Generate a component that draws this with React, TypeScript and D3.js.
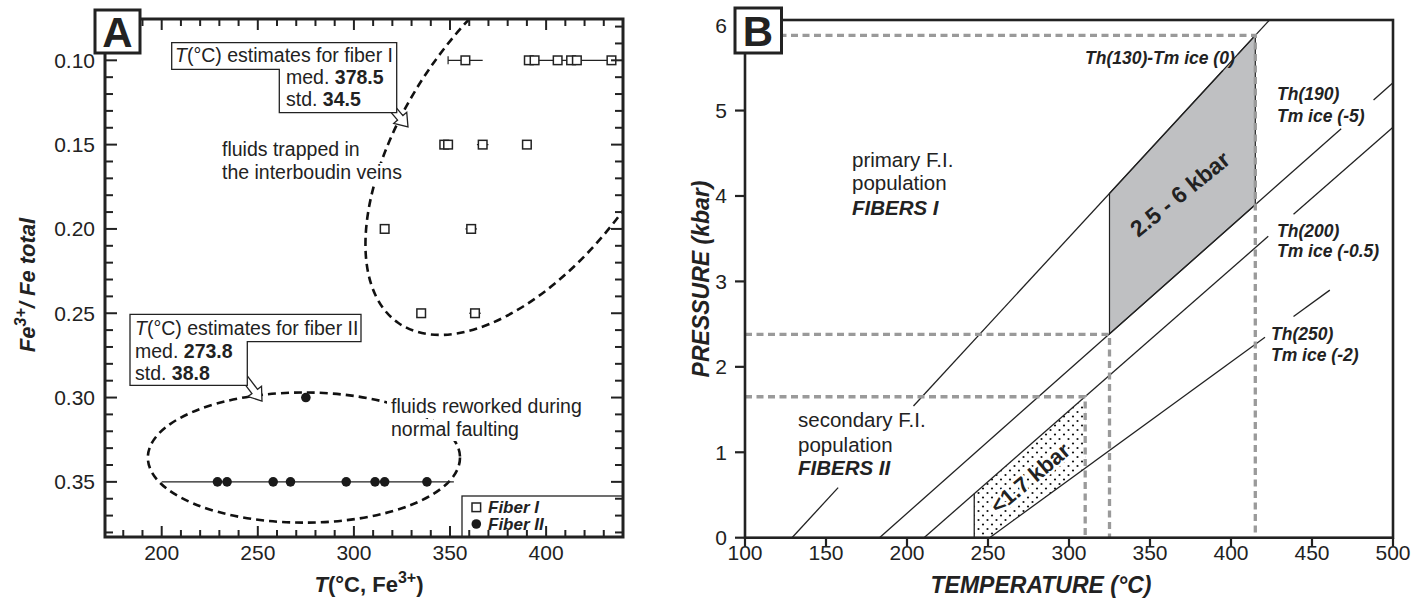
import React from 'react';
import * as d3 from 'd3';

const FONT = "'Liberation Sans', Arial, Helvetica, sans-serif";

// ---------- panel A data ----------
const fiberIT = [358, 391, 394, 406, 413, 416, 434, 347, 349, 367, 390, 316, 361, 335, 363];
const fiberIRatio = [0.1, 0.1, 0.1, 0.1, 0.1, 0.1, 0.1, 0.15, 0.15, 0.15, 0.15, 0.2, 0.2, 0.25, 0.25];
const fiberIIT = [275, 229, 234, 258, 267, 296, 311, 316, 338];
const fiberIIRatio = [0.3, 0.35, 0.35, 0.35, 0.35, 0.35, 0.35, 0.35, 0.35];
// horizontal range bars
const barFrom = [349, 391, 364, 358, 360, 200];
const barTo = [367, 434, 370, 364, 366, 352];
const barRatio = [0.1, 0.1, 0.15, 0.2, 0.25, 0.35];
const xTicksA = [200, 250, 300, 350, 400];
const yTicksA = [0.1, 0.15, 0.2, 0.25, 0.3, 0.35];

// ---------- panel B data ----------
const isoT0 = [129, 183, 210.5, 251];
const isoSlope = [0.02056, 0.0168, 0.0166, 0.0138];
const isoSegments = [
  [[129, 157.5], [204, 395], [404.3, 423.7]],
  [[183, 468], [488, 500]],
  [[210.5, 423], [438.6, 500]],
  [[251, 421], [438.6, 461]],
];
const refP = [5.88, 2.38, 1.65];
const refT = [415, 325, 310];
const primaryRange = [325, 415];
const secondaryRange = [241.5, 310];
const xTicksB = [100, 150, 200, 250, 300, 350, 400, 450, 500];
const yTicksB = [0, 1, 2, 3, 4, 5, 6];

const xA = d3.scaleLinear().domain([170.5, 440]).range([105, 623]);
const yA = d3.scaleLinear().domain([0.0755, 0.3827]).range([19, 537]);
const xB = d3.scaleLinear().domain([100, 500]).range([745, 1393]);
const yB = d3.scaleLinear().domain([0, 6.06]).range([537.7, 20]);

const iso = (i: number, t: number) => Math.max(0, (t - isoT0[i]) * isoSlope[i]);

function blockArrow(x0: number, y0: number, x1: number, y1: number, sw = 3.5, hw = 8.5, hl = 12) {
  const len = Math.hypot(x1 - x0, y1 - y0);
  const ux = (x1 - x0) / len, uy = (y1 - y0) / len;
  const nx = -uy, ny = ux;
  const bx = x1 - ux * hl, by = y1 - uy * hl;
  const p = [
    [x0 + nx * sw, y0 + ny * sw], [bx + nx * sw, by + ny * sw], [bx + nx * hw, by + ny * hw],
    [x1, y1], [bx - nx * hw, by - ny * hw], [bx - nx * sw, by - ny * sw], [x0 - nx * sw, y0 - ny * sw],
  ];
  return p.map(d => d.join(',')).join(' ');
}

function PanelA() {
  const [x0, x1] = xA.range();
  const [y0, y1] = yA.range();
  const minorX = d3.range(18, 45).map(d => d * 10);
  const minorY = d3.range(8, 39).map(d => d / 100);
  const cx2 = xA(274), cy2 = yA(0.3356);
  const rx2 = xA(274 + 81.2) - cx2, ry2 = yA(0.3356 + 0.0386) - cy2;
  return (
    <g fontFamily={FONT}>
      <defs>
        <clipPath id="clipA"><rect x={x0} y={y0} width={x1 - x0} height={y1 - y0} /></clipPath>
      </defs>
      <g clipPath="url(#clipA)" fill="none" stroke="#111" strokeWidth={2.6} strokeDasharray="8 5">
        <ellipse cx={xA(391.6)} cy={yA(0.1439)} rx={230} ry={120} transform={`rotate(-55 ${xA(391.6)} ${yA(0.1439)})`} />
        <ellipse cx={cx2} cy={cy2} rx={rx2} ry={ry2} />
      </g>
      {/* text with white backgrounds */}
      <g fill="#fff">
        <rect x={220} y={139} width={150} height={22} />
        <rect x={220} y={163} width={196} height={23} />
        <rect x={387} y={396} width={198} height={22} />
        <rect x={387} y={420} width={135} height={21} />
      </g>
      <g fontSize={19.5} fill="#222">
        <text x={222} y={156}>fluids trapped in</text>
        <text x={222} y={179}>the interboudin veins</text>
        <text x={391} y={413}>fluids reworked during</text>
        <text x={391} y={436}>normal faulting</text>
      </g>
      {/* range bars */}
      <g stroke="#222" strokeWidth={1.2}>
        {barFrom.map((f, i) => (
          <line key={i} x1={xA(f)} x2={xA(barTo[i])} y1={yA(barRatio[i])} y2={yA(barRatio[i])} />
        ))}
        <line x1={xA(barFrom[0])} x2={xA(barFrom[0])} y1={yA(barRatio[0]) - 4} y2={yA(barRatio[0]) + 4} />
      </g>
      {fiberIT.map((t, i) => (
        <rect key={'s' + i} x={xA(t) - 4.3} y={yA(fiberIRatio[i]) - 4.3} width={8.6} height={8.6} fill="#fff" stroke="#222" strokeWidth={1.5} />
      ))}
      {fiberIIT.map((t, i) => (
        <circle key={'c' + i} cx={xA(t)} cy={yA(fiberIIRatio[i])} r={4.8} fill="#1a1a1a" />
      ))}
      {/* estimate boxes */}
      <g fill="#fff" stroke="#222" strokeWidth={1.3}>
        <polygon points={blockArrow(386, 101, 408, 127)} />
        <polygon points="171.7,42.7 396.7,42.7 396.7,112.7 279.3,112.7 279.3,69.3 171.7,69.3" />
        <polygon points={blockArrow(240, 372, 262, 401)} />
        <polygon points="130,314.3 361,314.3 361,341.7 247.3,341.7 247.3,385.3 130,385.3" />
      </g>
      <g fontSize={19.5} fill="#222">
        <text x={175} y={62}><tspan fontStyle="italic">T</tspan>(°C) estimates for fiber I</text>
        <text x={286} y={84}>med. <tspan fontWeight="bold">378.5</tspan></text>
        <text x={286} y={106}>std. <tspan fontWeight="bold">34.5</tspan></text>
        <text x={135} y={335}><tspan fontStyle="italic">T</tspan>(°C) estimates for fiber II</text>
        <text x={135} y={358}>med. <tspan fontWeight="bold">273.8</tspan></text>
        <text x={135} y={380}>std. <tspan fontWeight="bold">38.8</tspan></text>
      </g>
      {/* legend */}
      <rect x={462} y={496} width={x1 - 462} height={y1 - 496} fill="#fff" stroke="#222" strokeWidth={1.3} />
      <rect x={472} y={503} width={8.6} height={8.6} fill="#fff" stroke="#222" strokeWidth={1.5} />
      <circle cx={476.3} cy={524} r={4.8} fill="#1a1a1a" />
      <g fontSize={17} fontWeight="bold" fontStyle="italic" fill="#222">
        <text x={488} y={513}>Fiber I</text>
        <text x={488} y={530}>Fiber II</text>
      </g>
      {/* frame + ticks */}
      <rect x={x0} y={y0} width={x1 - x0} height={y1 - y0} fill="none" stroke="#222" strokeWidth={3} />
      <g stroke="#222" strokeWidth={2}>
        {minorX.map(t => {
          const len = t % 50 === 0 ? 11 : 7;
          return (
            <g key={'x' + t}>
              <line x1={xA(t)} x2={xA(t)} y1={y1} y2={y1 - len} />
              <line x1={xA(t)} x2={xA(t)} y1={y0} y2={y0 + len} />
            </g>
          );
        })}
        {minorY.map(v => {
          const len = Math.round(v * 100) % 5 === 0 ? 12 : 8;
          return (
            <g key={'y' + v}>
              <line x1={x0} x2={x0 + len} y1={yA(v)} y2={yA(v)} />
              <line x1={x1} x2={x1 - len} y1={yA(v)} y2={yA(v)} />
            </g>
          );
        })}
      </g>
      <g fontSize={21} fill="#222">
        {xTicksA.map(t => (
          <text key={t} x={xA(t)} y={560} textAnchor="middle">{t}</text>
        ))}
        {yTicksA.map(v => (
          <text key={v} x={95} y={yA(v) + 7.5} textAnchor="end">{v.toFixed(2)}</text>
        ))}
      </g>
      <text x={369} y={592} textAnchor="middle" fontSize={22} fontWeight="bold" fill="#222">
        <tspan fontStyle="italic">T</tspan>(°C, Fe<tspan dy={-9} fontSize={16}>3+</tspan><tspan dy={9}>)</tspan>
      </text>
      <text transform="translate(35,285) rotate(-90)" textAnchor="middle" fontSize={22} fontWeight="bold" fontStyle="italic" fill="#222">
        Fe<tspan dy={-9} fontSize={16}>3+</tspan><tspan dy={9}>/ Fe total</tspan>
      </text>
      <rect x={95} y={10} width={45} height={43} fill="#fff" stroke="#222" strokeWidth={3} />
      <text x={117.5} y={47} textAnchor="middle" fontSize={42} fontWeight="bold" fill="#222">A</text>
    </g>
  );
}

function PanelB() {
  const [x0, x1] = xB.range();
  const [yb, yt] = yB.range();
  const [p0, p1] = primaryRange;
  const [s0, s1] = secondaryRange;
  const gray = [[p0, iso(0, p0)], [p1, iso(0, p1)], [p1, iso(1, p1)], [p0, iso(1, p0)]];
  const dotted = [[s0, 0], [s0, iso(2, s0)], [s1, iso(2, s1)], [s1, iso(3, s1)], [isoT0[3], 0]];
  const poly = (pts: number[][]) => pts.map(([t, p]) => `${xB(t)},${yB(p)}`).join(' ');
  return (
    <g fontFamily={FONT}>
      <defs>
        <pattern id="dots" width={9} height={9} patternUnits="userSpaceOnUse">
          <circle cx={2} cy={2.5} r={1.1} fill="#111" />
          <circle cx={6.5} cy={7} r={1.1} fill="#111" />
        </pattern>
      </defs>
      <polygon points={poly(gray)} fill="#bfc0c2" stroke="#222" strokeWidth={1.2} />
      <polygon points={poly(dotted)} fill="url(#dots)" stroke="none" />
      <line x1={xB(s0)} x2={xB(s0)} y1={yB(0)} y2={yB(iso(2, s0))} stroke="#222" strokeWidth={1.3} />
      <g stroke="#222" strokeWidth={1.3}>
        {isoSegments.map((segs, i) =>
          segs.map(([a, b], j) => (
            <line key={i + '-' + j} x1={xB(a)} y1={yB(iso(i, a))} x2={xB(b)} y2={yB(iso(i, b))} />
          ))
        )}
      </g>
      <g stroke="#9a9a9a" strokeWidth={3.3} strokeDasharray="7 4.5" fill="none">
        {refP.map((p, i) => (
          <polyline key={i} points={`${xB(100)},${yB(p)} ${xB(refT[i])},${yB(p)} ${xB(refT[i])},${yB(0)}`} />
        ))}
      </g>
      <text transform={`translate(1180,194) rotate(-39)`} textAnchor="middle" dy="0.35em" fontSize={23} fontWeight="bold" fill="#222">2.5 - 6 kbar</text>
      <text transform={`translate(1030,478) rotate(-40)`} textAnchor="middle" dy="0.35em" fontSize={22} fontWeight="bold" fill="#222"
        stroke="#fff" strokeWidth={5} paintOrder="stroke" strokeLinejoin="round">&lt;1.7 kbar</text>
      <g fontSize={17.5} fontWeight="bold" fontStyle="italic" fill="#222">
        <text x={1085} y={64}>Th(130)-Tm ice (0)</text>
        <text x={1277} y={100}>Th(190)</text>
        <text x={1277} y={121.5}>Tm ice (-5)</text>
        <text x={1277} y={236.5}>Th(200)</text>
        <text x={1277} y={257}>Tm ice (-0.5)</text>
        <text x={1271} y={340}>Th(250)</text>
        <text x={1271} y={360.5}>Tm ice (-2)</text>
      </g>
      <g fontSize={20.5} fill="#222">
        <text x={852} y={167}>primary F.I.</text>
        <text x={852} y={190}>population</text>
        <text x={852} y={215} fontWeight="bold" fontStyle="italic">FIBERS I</text>
        <text x={798} y={427}>secondary F.I.</text>
        <text x={798} y={451.5}>population</text>
        <text x={798} y={475} fontWeight="bold" fontStyle="italic">FIBERS II</text>
      </g>
      <rect x={x0} y={yt} width={x1 - x0} height={yb - yt} fill="none" stroke="#222" strokeWidth={2.6} />
      <g stroke="#222" strokeWidth={2.2}>
        {xTicksB.map(t => <line key={t} x1={xB(t)} x2={xB(t)} y1={yb} y2={yb + 9} />)}
        {yTicksB.map(p => <line key={p} x1={x0} x2={x0 - 10} y1={yB(p)} y2={yB(p)} />)}
      </g>
      <g fontSize={21} fill="#222">
        {xTicksB.map(t => <text key={t} x={xB(t)} y={560} textAnchor="middle">{t}</text>)}
        {yTicksB.map(p => <text key={p} x={727} y={yB(p) + 7.5} textAnchor="end">{p}</text>)}
      </g>
      <text x={1041} y={593} textAnchor="middle" fontSize={23} fontWeight="bold" fontStyle="italic" fill="#222">TEMPERATURE (°C)</text>
      <text transform="translate(709,279) rotate(-90)" textAnchor="middle" fontSize={23} fontWeight="bold" fontStyle="italic" fill="#222">PRESSURE (kbar)</text>
      <rect x={735} y={8} width={46.5} height={45} fill="#fff" stroke="#222" strokeWidth={3} />
      <text x={758} y={46} textAnchor="middle" fontSize={42} fontWeight="bold" fill="#222">B</text>
    </g>
  );
}

export default function App() {
  return (
    <svg width={1425} height={599} style={{ position: 'absolute', left: 0, top: 0, background: '#fff' }}>
      <rect width={1425} height={599} fill="#fff" />
      <PanelA />
      <PanelB />
    </svg>
  );
}
